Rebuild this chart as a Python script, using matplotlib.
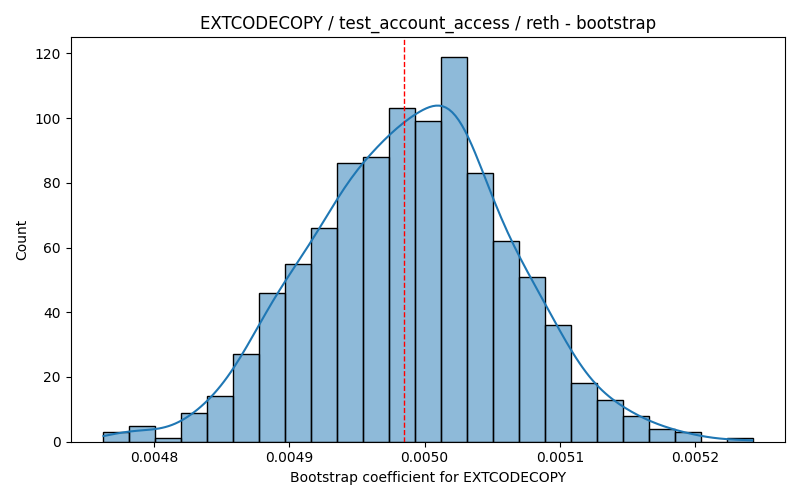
import matplotlib
matplotlib.use("Agg")
import matplotlib.pyplot as plt
import seaborn as sns
import numpy as np
import pandas as pd

# conteos por bin
conteos = [3, 5, 1, 9, 14, 27, 46, 55, 66, 86, 88, 103, 99, 119,
           83, 62, 51, 36, 18, 13, 8, 4, 3, 0, 1]
borde_min = 0.0047621
borde_max = 0.0052426
valor_ref = 0.0049847

bordes = np.linspace(borde_min, borde_max, len(conteos) + 1)
centros = (bordes[:-1] + bordes[1:]) / 2
df = pd.DataFrame({"coef": centros, "n": conteos})

fig, ax = plt.subplots(figsize=(8, 5), dpi=100)
# con pesos el kde usa n efectivo (~13), se corrige el ancho de banda
sns.histplot(data=df, x="coef", weights="n", bins=len(conteos),
             binrange=(borde_min, borde_max), kde=True,
             kde_kws={"cut": 0.3, "bw_adjust": 0.42},
             edgecolor="black", ax=ax)
ax.axvline(valor_ref, color="red", linestyle="--", linewidth=1)

ax.set_title("EXTCODECOPY / test_account_access / reth - bootstrap")
ax.set_xlabel("Bootstrap coefficient for EXTCODECOPY")
ax.set_ylabel("Count")

plt.tight_layout()
plt.savefig("out.png")
plt.close()
